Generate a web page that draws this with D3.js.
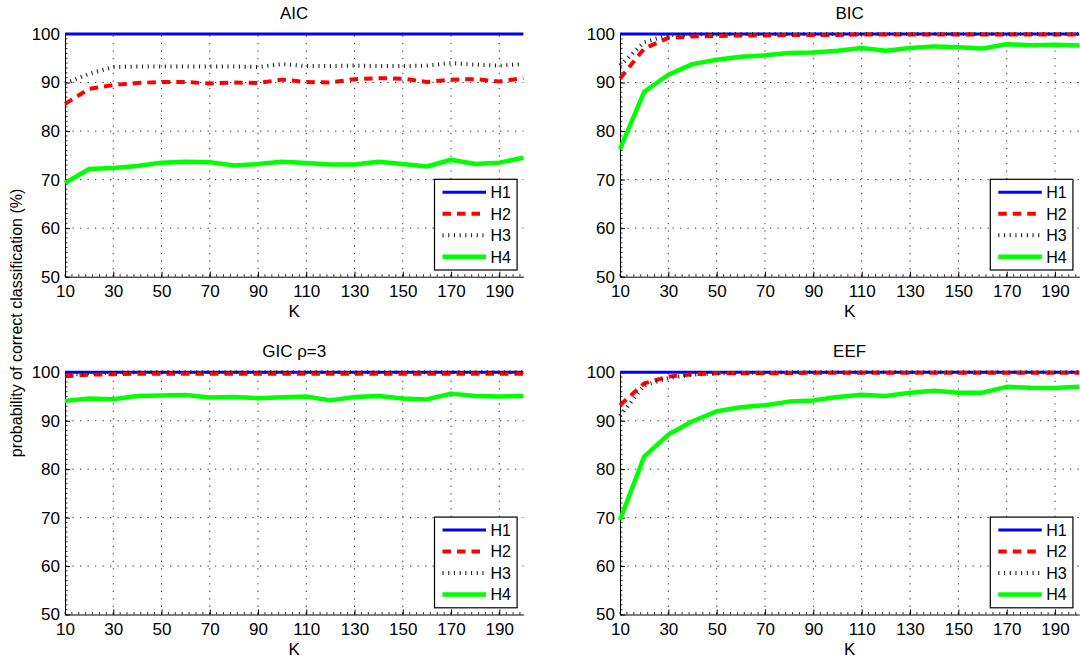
<!DOCTYPE html>
<html><head><meta charset="utf-8">
<script src="https://cdn.jsdelivr.net/npm/d3@7"></script>
<style>body{margin:0;background:#fff;} svg{display:block;font-family:"Liberation Sans",Arial,Helvetica,sans-serif;}</style>
</head><body><svg id="c" width="1080" height="659"></svg>
<script>
// ---------- data ----------
const K = [10,20,30,40,50,60,70,80,90,100,110,120,130,140,150,160,170,180,190,200];
const xTickValues = [10,30,50,70,90,110,130,150,170,190];
const yTickValues = [50,60,70,80,90,100];
const seriesNames = ["H1","H2","H3","H4"];
const panelTitles = ["AIC","BIC","GIC \u03C1=3","EEF"];
const yLabel = "probability of correct classification (%)";
const xLabel = "K";

const aicH1 = [100,100,100,100,100,100,100,100,100,100,100,100,100,100,100,100,100,100,100,100];
const aicH2 = [85.6,88.7,89.5,89.9,90.1,90.1,89.8,90.0,89.9,90.6,90.1,90.0,90.7,90.9,90.8,90.1,90.6,90.7,90.2,90.9];
const aicH3 = [89.8,91.8,93.2,93.3,93.3,93.3,93.3,93.3,93.2,93.8,93.4,93.4,93.5,93.4,93.4,93.5,94.0,93.7,93.5,93.8];
const aicH4 = [69.3,72.2,72.4,72.8,73.5,73.7,73.6,72.9,73.2,73.7,73.4,73.1,73.1,73.7,73.2,72.7,74.1,73.2,73.5,74.5];

const bicH1 = [100,100,100,100,100,100,100,100,100,100,100,100,100,100,100,100,100,100,100,100];
const bicH2 = [90.8,97.0,99.2,99.5,99.6,99.7,99.7,99.8,99.8,99.8,99.9,99.9,99.9,99.9,99.9,99.9,99.9,99.9,99.9,99.9];
const bicH3 = [93.5,98.3,99.8,99.9,100,100,100,100,100,100,100,100,100,100,100,100,100,100,100,100];
const bicH4 = [76.3,88.1,91.6,93.8,94.7,95.3,95.6,96.1,96.2,96.55,97.1,96.55,97.1,97.45,97.25,97.0,97.9,97.7,97.8,97.65];

const gicH1 = [100,100,100,100,100,100,100,100,100,100,100,100,100,100,100,100,100,100,100,100];
const gicH2 = [99.2,99.5,99.6,99.7,99.7,99.7,99.7,99.7,99.7,99.7,99.7,99.7,99.7,99.7,99.7,99.7,99.7,99.7,99.7,99.7];
const gicH3 = [99.4,99.8,99.9,100,100,100,100,100,100,100,100,100,100,100,100,100,100,100,100,100];
const gicH4 = [94.1,94.6,94.45,95.1,95.2,95.3,94.8,94.9,94.65,94.85,95.0,94.2,94.9,95.1,94.6,94.4,95.6,95.1,95.0,95.1];

const eefH1 = [100,100,100,100,100,100,100,100,100,100,100,100,100,100,100,100,100,100,100,100];
const eefH2 = [93.2,97.7,99.1,99.6,99.8,99.8,99.8,99.85,99.9,99.9,99.9,99.9,99.9,99.9,99.9,99.9,99.9,99.9,99.9,99.9];
const eefH3 = [91.0,97.3,98.8,99.5,99.8,99.9,99.9,100,100,100,100,100,100,100,100,100,100,100,100,100];
const eefH4 = [69.5,82.6,87.15,89.9,91.95,92.8,93.2,93.95,94.2,94.9,95.35,95.1,95.8,96.2,95.8,95.8,97.0,96.8,96.75,97.0];

const panelData = [
  [aicH1,aicH2,aicH3,aicH4],
  [bicH1,bicH2,bicH3,bicH4],
  [gicH1,gicH2,gicH3,gicH4],
  [eefH1,eefH2,eefH3,eefH4]
];

// ---------- styles / layout ----------
const styles = {
  H1:{color:"#0000ff", width:3, dash:null},
  H2:{color:"#ff0000", width:4, dash:"8.5,6"},
  H3:{color:"#222222", width:4, dash:"1.1,4.6"},
  H4:{color:"#00ff00", width:4.5, dash:null}
};
const panels = [
  {left:65,  right:523.4,  top:34,    bottom:276.7},
  {left:620, right:1079.2, top:34,    bottom:276.7},
  {left:65,  right:523.4,  top:372.3, bottom:614.5},
  {left:620, right:1079.2, top:372.3, bottom:614.5}
];
const FS = 17;     // tick labels, titles, K
const FS_LEG = 16; // legend, y label

const svg = d3.select("#c");

panels.forEach((p, pi) => {
  const x = d3.scaleLinear().domain([10,200]).range([p.left,p.right]);
  const y = d3.scaleLinear().domain([50,100]).range([p.bottom,p.top]);
  const g = svg.append("g");

  // grid
  const grid = g.append("g").attr("stroke","#333").attr("stroke-width",1).attr("stroke-dasharray","1.3,6.2").attr("fill","none");
  xTickValues.filter(v=>v>10).forEach(v=>{
    grid.append("line").attr("x1",x(v)).attr("x2",x(v)).attr("y1",y(50)).attr("y2",y(100));
  });
  yTickValues.filter(v=>v>50 && v<100).forEach(v=>{
    grid.append("line").attr("x1",x(10)).attr("x2",x(200)).attr("y1",y(v)).attr("y2",y(v));
  });

  // axes (ticks inward)
  const xAxis = d3.axisBottom(x).tickValues(xTickValues).tickSize(-5).tickPadding(9).tickSizeOuter(0);
  const yAxis = d3.axisLeft(y).tickValues(yTickValues).tickSize(-5).tickPadding(9).tickSizeOuter(0);
  const gx = g.append("g").attr("transform",`translate(0,${p.bottom})`).call(xAxis);
  const gy = g.append("g").attr("transform",`translate(${p.left},0)`).call(yAxis);
  [gx,gy].forEach(a=>{
    a.select(".domain").attr("stroke","#000").attr("stroke-width",1);
    a.selectAll(".tick line").attr("stroke","#000");
    a.selectAll(".tick text").attr("font-size",FS).attr("fill","#000").attr("font-family","Liberation Sans, Arial, sans-serif");
  });
  gx.selectAll(".tick text").attr("dy","0.68em");
  gy.selectAll(".tick text").attr("dx","4");
  // minor ticks
  const minor = g.append("g").attr("stroke","#000").attr("stroke-width",0.8);
  d3.range(10,200.01,20/7).forEach(v=>{
    minor.append("line").attr("x1",x(v)).attr("x2",x(v)).attr("y1",p.bottom).attr("y2",p.bottom-2.5);
  });
  d3.range(50,100.01,1).forEach(v=>{
    minor.append("line").attr("x1",p.left).attr("x2",p.left+2.5).attr("y1",y(v)).attr("y2",y(v));
  });

  // series
  const line = d3.line().x((d,i)=>x(K[i])).y(d=>y(d));
  panelData[pi].forEach((arr, si) => {
    const st = styles[seriesNames[si]];
    g.append("path").datum(arr).attr("d",line).attr("fill","none")
      .attr("stroke",st.color).attr("stroke-width",st.width)
      .attr("stroke-dasharray",st.dash).attr("stroke-linejoin","round");
  });

  // title
  g.append("text").attr("x",(p.left+p.right)/2).attr("y",p.top-15.5)
    .attr("text-anchor","middle").attr("font-size",FS).attr("fill","#000").text(panelTitles[pi]);
  // x label
  g.append("text").attr("x",(p.left+p.right)/2).attr("y",p.bottom+40)
    .attr("text-anchor","middle").attr("font-size",FS).attr("fill","#000").text(xLabel);

  // legend
  const lw = 82.6, lh = 90.7;
  const lx = p.right - 6.3 - lw, ly = p.bottom - 6.7 - lh;
  const lg = g.append("g");
  lg.append("rect").attr("x",lx).attr("y",ly).attr("width",lw).attr("height",lh)
    .attr("fill","#fff").attr("stroke","#000").attr("stroke-width",1.2);
  seriesNames.forEach((nm, i) => {
    const st = styles[nm];
    const cy = ly + 13 + i*21.5;
    lg.append("line").attr("x1",lx+8).attr("x2",lx+51.5).attr("y1",cy).attr("y2",cy)
      .attr("stroke",st.color).attr("stroke-width",st.width).attr("stroke-dasharray",st.dash);
    lg.append("text").attr("x",lx+56).attr("y",cy).attr("dy","0.36em")
      .attr("font-size",FS_LEG).attr("fill","#000").text(nm);
  });
});

// shared y label
svg.append("text").attr("transform","translate(22,323) rotate(-90)")
  .attr("text-anchor","middle").attr("font-size",FS_LEG).attr("fill","#000").text(yLabel);
</script>
</body></html>
